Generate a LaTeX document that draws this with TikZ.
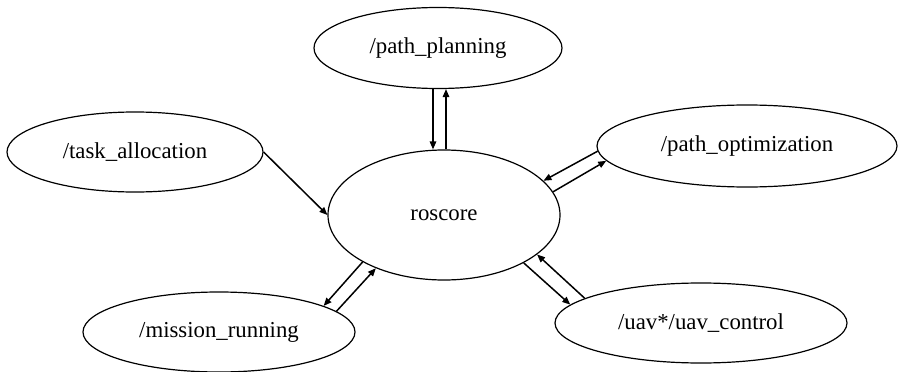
\documentclass[tikz,border=0pt]{standalone}
\usepackage{fontspec}
\setmainfont{Liberation Serif}
\usetikzlibrary{shapes.geometric,arrows.meta}
\begin{document}
\begin{tikzpicture}[x=1pt,y=-1pt,
  nd/.style={ellipse,draw,line width=1.2pt,inner sep=0pt,
    font=\fontsize{22.8}{27}\selectfont},
  arr/.style={line width=1.5pt,-{Triangle[length=8pt,width=6.5pt]}}]
\useasboundingbox (0,0) rectangle (898,372);
\node[nd,minimum width=232pt,minimum height=130pt] (ros) at (444,215) {roscore};
\node[nd,minimum width=248pt,minimum height=81pt] (pp) at (438,48) {/path\_planning};
\node[nd,minimum width=256pt,minimum height=80pt] (ta) at (135,152) {/task\_allocation};
\node[nd,minimum width=300pt,minimum height=82pt] (po) at (747,146) {/path\_optimization};
\node[nd,minimum width=272pt,minimum height=80pt] (mr) at (219,332) {/mission\_running};
\node[nd,minimum width=292pt,minimum height=80pt] (uc) at (701,323) {/uav*/uav\_control};
% task_allocation -> roscore
\draw[arr] (ta.east) -- (ros.west);
% path_planning <-> roscore
\draw[arr] ([xshift=-5pt]pp.south) -- ([xshift=-5pt]pp.south |- ros.north);
\draw[arr] ([xshift=8pt]pp.south |- ros.north) -- ([xshift=8pt]pp.south);
% path_optimization <-> roscore
\draw[arr] (po.182.3) -- (ros.19);
\draw[arr] (ros.12.7) -- (po.186.5);
% roscore <-> mission_running
\draw[arr] (ros.210) -- (mr.14.8);
\draw[arr] (mr.10) -- (ros.218.3);
% roscore <-> uav_control
\draw[arr] (uc.168.1) -- (ros.337.5);
\draw[arr] (ros.329) -- (uc.172.9);
\end{tikzpicture}
\end{document}
